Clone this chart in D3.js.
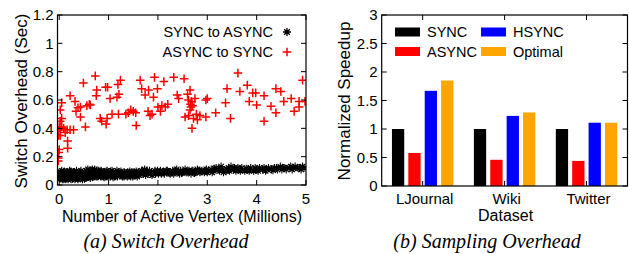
<!DOCTYPE html>
<html lang="en">
<head>
<meta charset="UTF-8">
<title>Switch and Sampling Overhead</title>
<script src="https://d3js.org/d3.v7.min.js"></script>
<style>
  body { margin: 0; background: #fff; }
  svg { display: block; font-family: "Liberation Sans", Arial, sans-serif; }
  .tick-label { font-size: 15px; fill: #000; }
  .axis-title { font-size: 16px; fill: #000; }
  .y-title { font-size: 17px; fill: #000; }
  .legend-text { font-size: 14.5px; fill: #000; }
  .caption { font-family: "Liberation Serif", "Times New Roman", serif; font-style: italic; font-size: 20px; fill: #000; }
</style>
</head>
<body>
<script>
  // ---- (a) switch overhead: [active vertices (millions), seconds]
  const syncToAsync = [
    [0.00,0.05],[0.01,0.08],[0.02,0.06],[0.03,0.09],[0.04,0.05],[0.05,0.07],[0.06,0.04],[0.07,0.08],
    [0.08,0.06],[0.09,0.09],[0.10,0.05],[0.11,0.07],[0.12,0.04],[0.13,0.08],[0.14,0.06],[0.15,0.09],
    [0.16,0.05],[0.17,0.07],[0.18,0.06],[0.19,0.08],[0.20,0.05],[0.22,0.07],[0.23,0.09],[0.24,0.04],
    [0.26,0.06],[0.27,0.08],[0.28,0.05],[0.30,0.07],[0.31,0.09],[0.33,0.06],[0.34,0.05],[0.36,0.08],
    [0.37,0.06],[0.39,0.07],[0.40,0.05],[0.42,0.09],[0.43,0.06],[0.45,0.07],[0.46,0.05],[0.48,0.08],
    [0.50,0.06],[0.51,0.09],[0.53,0.07],[0.54,0.05],[0.56,0.10],[0.57,0.07],[0.59,0.06],[0.60,0.09],
    [0.62,0.08],[0.63,0.05],[0.65,0.10],[0.66,0.07],[0.68,0.06],[0.69,0.09],[0.71,0.08],[0.72,0.11],
    [0.74,0.07],[0.75,0.06],[0.77,0.09],[0.79,0.08],[0.80,0.10],[0.82,0.07],[0.84,0.06],[0.86,0.09],
    [0.88,0.08],[0.90,0.07],[0.92,0.09],[0.94,0.06],[0.96,0.08],[0.98,0.07],[1.00,0.09],[1.03,0.06],
    [1.05,0.08],[1.08,0.07],[1.10,0.09],[1.13,0.07],[1.15,0.08],[1.18,0.06],[1.20,0.09],[1.23,0.07],
    [1.26,0.08],[1.29,0.07],[1.32,0.09],[1.35,0.07],[1.38,0.06],[1.41,0.08],[1.44,0.07],[1.47,0.09],
    [1.50,0.07],[1.54,0.08],[1.57,0.07],[1.60,0.09],[1.64,0.08],[1.67,0.10],[1.70,0.08],[1.73,0.11],
    [1.76,0.09],[1.80,0.08],[1.83,0.10],[1.87,0.09],[1.90,0.08],[1.94,0.10],[1.97,0.09],[2.01,0.08],
    [2.05,0.10],[2.09,0.09],[2.13,0.08],[2.17,0.10],[2.21,0.09],[2.25,0.08],[2.30,0.10],[2.34,0.09],
    [2.38,0.11],[2.42,0.09],[2.46,0.10],[2.50,0.09],[2.55,0.11],[2.59,0.09],[2.63,0.10],[2.67,0.08],
    [2.71,0.10],[2.76,0.09],[2.80,0.11],[2.85,0.09],[2.89,0.10],[2.94,0.09],[2.98,0.11],[3.03,0.10],
    [3.08,0.11],[3.13,0.10],[3.18,0.12],[3.23,0.11],[3.28,0.13],[3.33,0.09],[3.38,0.10],[3.43,0.12],
    [3.48,0.13],[3.53,0.11],[3.58,0.10],[3.64,0.11],[3.70,0.12],[3.76,0.10],[3.82,0.11],[3.88,0.12],
    [3.94,0.10],[4.00,0.11],[4.06,0.12],[4.12,0.11],[4.18,0.10],[4.24,0.12],[4.30,0.11],[4.36,0.12],
    [4.42,0.11],[4.48,0.13],[4.54,0.12],[4.60,0.11],[4.66,0.12],[4.72,0.11],[4.78,0.13],[4.84,0.12],
    [4.90,0.11],[4.96,0.12],
    [0.02,0.07],[0.05,0.10],[0.08,0.04],[0.12,0.09],[0.18,0.04],[0.21,0.10],[0.25,0.07],[0.29,0.09],
    [0.32,0.04],[0.35,0.10],[0.38,0.04],[0.41,0.07],[0.44,0.10],[0.47,0.04],[0.52,0.05],[0.55,0.08],
    [0.58,0.11],[0.61,0.06],[0.64,0.08],[0.67,0.11],[0.70,0.06],[0.73,0.09],[0.76,0.10],[0.78,0.06],
    [0.81,0.08],[0.85,0.10],[0.89,0.06],[0.93,0.08],[0.97,0.10],[1.02,0.08],[1.07,0.10],[1.12,0.06],
    [1.17,0.10],[1.22,0.08],[1.28,0.06],[1.33,0.08],[1.39,0.09],[1.45,0.06],[1.52,0.09],[1.58,0.06],
    [1.66,0.09],[1.75,0.07],[1.85,0.08],[1.95,0.08],[2.07,0.08],[2.19,0.10],[2.32,0.08],[2.44,0.08],
    [2.57,0.09],[2.69,0.10],[2.83,0.10],[2.96,0.10],[3.10,0.09],[3.25,0.10],[3.40,0.11],[3.55,0.12],
    [3.67,0.10],[3.85,0.10],[4.03,0.10],[4.20,0.11],[4.40,0.12],[4.57,0.12],[4.75,0.12],[4.93,0.13],
    [0.01,0.045],[0.04,0.085],[0.07,0.055],[0.10,0.095],[0.14,0.045],[0.17,0.085],[0.20,0.065],
    [0.24,0.095],[0.27,0.045],[0.31,0.065],[0.35,0.085],[0.39,0.055],[0.43,0.085],[0.47,0.065],
    [0.51,0.045],[0.55,0.065],[0.59,0.095],[0.63,0.075],[0.67,0.055],[0.71,0.10],[0.75,0.085],
    [0.79,0.065],[0.83,0.095],[0.87,0.075],[0.91,0.055],[0.95,0.095],[0.99,0.06],[1.04,0.095],
    [1.09,0.055],[1.14,0.09],[1.19,0.075],[1.25,0.095],[1.31,0.06],[1.37,0.085],[1.43,0.095],
    [1.49,0.06],[1.56,0.095],[1.62,0.07],[1.69,0.09],[1.78,0.10],[1.88,0.07],[1.99,0.10],
    [2.11,0.095],[2.23,0.085],[2.36,0.10],[2.48,0.085],[2.61,0.095],[2.74,0.085],[2.87,0.095],
    [3.00,0.09],[3.15,0.115],[3.30,0.11],[3.45,0.10],[3.62,0.12],[3.79,0.115],[3.97,0.12],
    [4.15,0.12],[4.33,0.105],[4.51,0.11],[4.69,0.13],[4.87,0.12]
  ];

  const asyncToSync = [
    [-0.02,0.17],[-0.02,0.19],[-0.01,0.23],[0.00,0.25],[-0.01,0.35],[0.00,0.41],[0.02,0.45],[0.02,0.39],
    [0.05,0.41],[0.09,0.40],[0.12,0.37],[0.16,0.39],[0.02,0.35],[0.17,0.31],[0.17,0.26],[0.05,0.47],
    [0.02,0.53],[0.05,0.58],[0.22,0.39],[0.29,0.39],[0.22,0.63],[0.32,0.59],[0.34,0.52],[0.38,0.545],
    [0.43,0.55],[0.43,0.48],[0.49,0.72],[0.53,0.41],[0.56,0.56],[0.61,0.57],[0.63,0.565],[0.73,0.77],
    [0.76,0.67],[0.75,0.63],[0.83,0.47],[0.86,0.45],[0.94,0.69],[0.98,0.69],[0.97,0.47],[0.95,0.43],
    [1.03,0.61],[1.07,0.50],[1.19,0.71],[1.24,0.74],[1.17,0.62],[1.20,0.50],[1.21,0.64],[1.35,0.50],
    [1.40,0.51],[1.45,0.53],[1.50,0.52],[1.55,0.51],[1.56,0.42],[1.64,0.74],[1.67,0.68],[1.74,0.635],
    [1.81,0.67],[1.84,0.49],[1.80,0.52],[1.88,0.50],[1.93,0.76],[1.91,0.62],[1.99,0.68],[2.00,0.55],
    [2.05,0.52],[2.08,0.56],[2.12,0.73],[2.15,0.55],[2.20,0.57],[2.32,0.76],[2.39,0.635],[2.42,0.61],
    [2.53,0.75],[2.55,0.48],[2.60,0.64],[2.62,0.60],[2.65,0.67],[2.66,0.57],[2.67,0.55],[2.68,0.59],
    [2.65,0.53],[2.70,0.56],[2.62,0.49],[2.72,0.47],[2.69,0.40],[2.75,0.61],[2.78,0.50],[2.80,0.46],
    [2.85,0.49],[2.97,0.60],[2.97,0.48],[3.17,0.51],[3.00,0.61],[3.37,0.58],[3.40,0.68],[3.47,0.47],
    [3.62,0.79],[3.66,0.66],[3.81,0.705],[3.85,0.59],[3.92,0.65],[3.98,0.65],[4.00,0.565],[4.15,0.63],
    [4.15,0.45],[4.29,0.556],[4.39,0.51],[4.39,0.68],[4.49,0.66],[4.55,0.59],[4.76,0.52],[4.70,0.61],
    [4.86,0.59],[4.93,0.74],[4.86,0.55],[4.98,0.59]
  ];

  const xTicksA = [0, 1, 2, 3, 4, 5];
  const yTicksA = [0, 0.2, 0.4, 0.6, 0.8, 1, 1.2];

  // ---- (b) sampling overhead
  const datasets = ["LJournal", "Wiki", "Twitter"];
  const seriesNames = ["SYNC", "ASYNC", "HSYNC", "Optimal"];
  const syncVals = [1, 1, 1];
  const asyncVals = [0.58, 0.46, 0.44];
  const hsyncVals = [1.67, 1.23, 1.11];
  const optimalVals = [1.85, 1.29, 1.11];
  const yTicksB = [0, 0.5, 1, 1.5, 2, 2.5, 3];

  const W = 629, H = 254;
  const svg = d3.select("body").append("svg").attr("width", W).attr("height", H);
  svg.append("rect").attr("width", W).attr("height", H).attr("fill", "#fff");

  const tickLen = 5;

  // frame + inward ticks, gnuplot style (mirrored)
  function frame(x, y, xt, yt, fmtY) {
    const [x0, x1] = x.range(), [y0, y1] = y.range();
    const g = svg.append("g");
    yt.forEach(v => {
      g.append("line").attr("x1", x0).attr("x2", x0 + tickLen).attr("y1", y(v)).attr("y2", y(v)).attr("stroke", "#000");
      g.append("line").attr("x1", x1).attr("x2", x1 - tickLen).attr("y1", y(v)).attr("y2", y(v)).attr("stroke", "#000");
      g.append("text").attr("class", "tick-label").attr("x", x0 - 4).attr("y", y(v)).attr("dy", "0.36em")
        .attr("text-anchor", "end").text(fmtY(v));
    });
    xt.forEach(v => {
      g.append("line").attr("x1", x(v)).attr("x2", x(v)).attr("y1", y0).attr("y2", y0 - tickLen).attr("stroke", "#000");
      g.append("line").attr("x1", x(v)).attr("x2", x(v)).attr("y1", y1).attr("y2", y1 + tickLen).attr("stroke", "#000");
    });
    g.append("rect").attr("x", x0).attr("y", y1).attr("width", x1 - x0).attr("height", y0 - y1)
      .attr("fill", "none").attr("stroke", "#000").attr("stroke-width", 1.2);
    return g;
  }

  // ================= (a) =================
  const xA = d3.scaleLinear().domain([-0.035, 5]).range([57.5, 306]);
  const yA = d3.scaleLinear().domain([0, 1.2]).range([185, 15]);

  const asterisk = s => `M${-s},0H${s}M0,${-s}V${s}M${-s*0.7},${-s*0.7}L${s*0.7},${s*0.7}M${-s*0.7},${s*0.7}L${s*0.7},${-s*0.7}`;
  const plus = s => `M${-s},0H${s}M0,${-s}V${s}`;

  svg.append("clipPath").attr("id", "clipA").append("rect")
    .attr("x", 57.5).attr("y", 15).attr("width", 306 - 57.5).attr("height", 170);

  const marksA = svg.append("g").attr("clip-path", "url(#clipA)");
  marksA.selectAll(".ast").data(syncToAsync).join("path").attr("class", "ast")
    .attr("transform", d => `translate(${xA(d[0])},${yA(d[1])})`)
    .attr("d", asterisk(4)).attr("stroke", "#000").attr("stroke-width", 1.1).attr("fill", "none");
  marksA.selectAll(".pl").data(asyncToSync).join("path").attr("class", "pl")
    .attr("transform", d => `translate(${xA(d[0])},${yA(d[1])})`)
    .attr("d", plus(4.3)).attr("stroke", "#ff0000").attr("stroke-width", 1.5).attr("fill", "none");

  frame(xA, yA, xTicksA, yTicksA, d => d3.format("~g")(d));
  xTicksA.forEach(v => {
    svg.append("text").attr("class", "tick-label").attr("x", xA(v)).attr("y", 204)
      .attr("text-anchor", "middle").text(v);
  });
  svg.append("text").attr("class", "axis-title").attr("x", 182).attr("y", 222)
    .attr("text-anchor", "middle").text("Number of Active Vertex (Millions)");
  svg.append("text").attr("class", "y-title")
    .attr("transform", "translate(27,101) rotate(-90)")
    .attr("text-anchor", "middle").text("Switch Overhead (Sec)");

  // legend (a)
  const legA = [["SYNC to ASYNC", "ast", 32], ["ASYNC to SYNC", "pl", 52]];
  legA.forEach(([label, kind, ly]) => {
    svg.append("text").attr("class", "legend-text").attr("x", 273).attr("y", ly).attr("dy", "0.36em")
      .attr("text-anchor", "end").text(label);
    svg.append("path").attr("transform", `translate(287,${ly})`)
      .attr("d", kind === "ast" ? asterisk(4) : plus(4.3))
      .attr("stroke", kind === "ast" ? "#000" : "#ff0000")
      .attr("stroke-width", kind === "ast" ? 1.3 : 1.5).attr("fill", "none");
  });

  svg.append("text").attr("class", "caption").attr("x", 166).attr("y", 248)
    .attr("text-anchor", "middle").text("(a) Switch Overhead");

  // ================= (b) =================
  const xB = d3.scaleLinear().domain([-0.5, 2.5]).range([381.7, 627.5]);
  const yB = d3.scaleLinear().domain([0, 3]).range([186, 15]);
  const colors = ["#000000", "#ff0000", "#0000ff", "#ffa500"];
  const offsets = [-0.3, -0.1, 0.1, 0.3];
  const barW = 0.15;
  const allVals = [syncVals, asyncVals, hsyncVals, optimalVals];

  const bars = [];
  allVals.forEach((vals, s) => vals.forEach((v, i) => bars.push({ s, i, v })));

  svg.append("g").selectAll("rect").data(bars).join("rect")
    .attr("x", d => xB(d.i + offsets[d.s] - barW / 2))
    .attr("width", d => xB(d.i + offsets[d.s] + barW / 2) - xB(d.i + offsets[d.s] - barW / 2))
    .attr("y", d => yB(d.v))
    .attr("height", d => yB(0) - yB(d.v))
    .attr("fill", d => colors[d.s]);

  frame(xB, yB, [0, 1, 2], yTicksB, d => d3.format("~g")(d));
  datasets.forEach((name, i) => {
    svg.append("text").attr("class", "tick-label").attr("x", xB(i) + 2).attr("y", 204)
      .attr("text-anchor", "middle").text(name);
  });
  svg.append("text").attr("class", "axis-title").attr("x", xB(1) + 1).attr("y", 221)
    .attr("text-anchor", "middle").text("Dataset");
  svg.append("text").attr("class", "y-title")
    .attr("transform", "translate(350,101) rotate(-90)")
    .attr("text-anchor", "middle").text("Normalized Speedup");

  // legend (b)
  seriesNames.forEach((name, s) => {
    const lx = s < 2 ? 395 : 481;
    const ly = s % 2 === 0 ? 32 : 51.5;
    svg.append("rect").attr("x", lx).attr("y", ly - 4.5).attr("width", 25).attr("height", 9).attr("fill", colors[s]);
    svg.append("text").attr("class", "legend-text").attr("x", lx + 32).attr("y", ly).attr("dy", "0.36em").text(name);
  });

  svg.append("text").attr("class", "caption").attr("x", 487).attr("y", 248)
    .attr("text-anchor", "middle").text("(b) Sampling Overhead");
</script>
</body>
</html>
